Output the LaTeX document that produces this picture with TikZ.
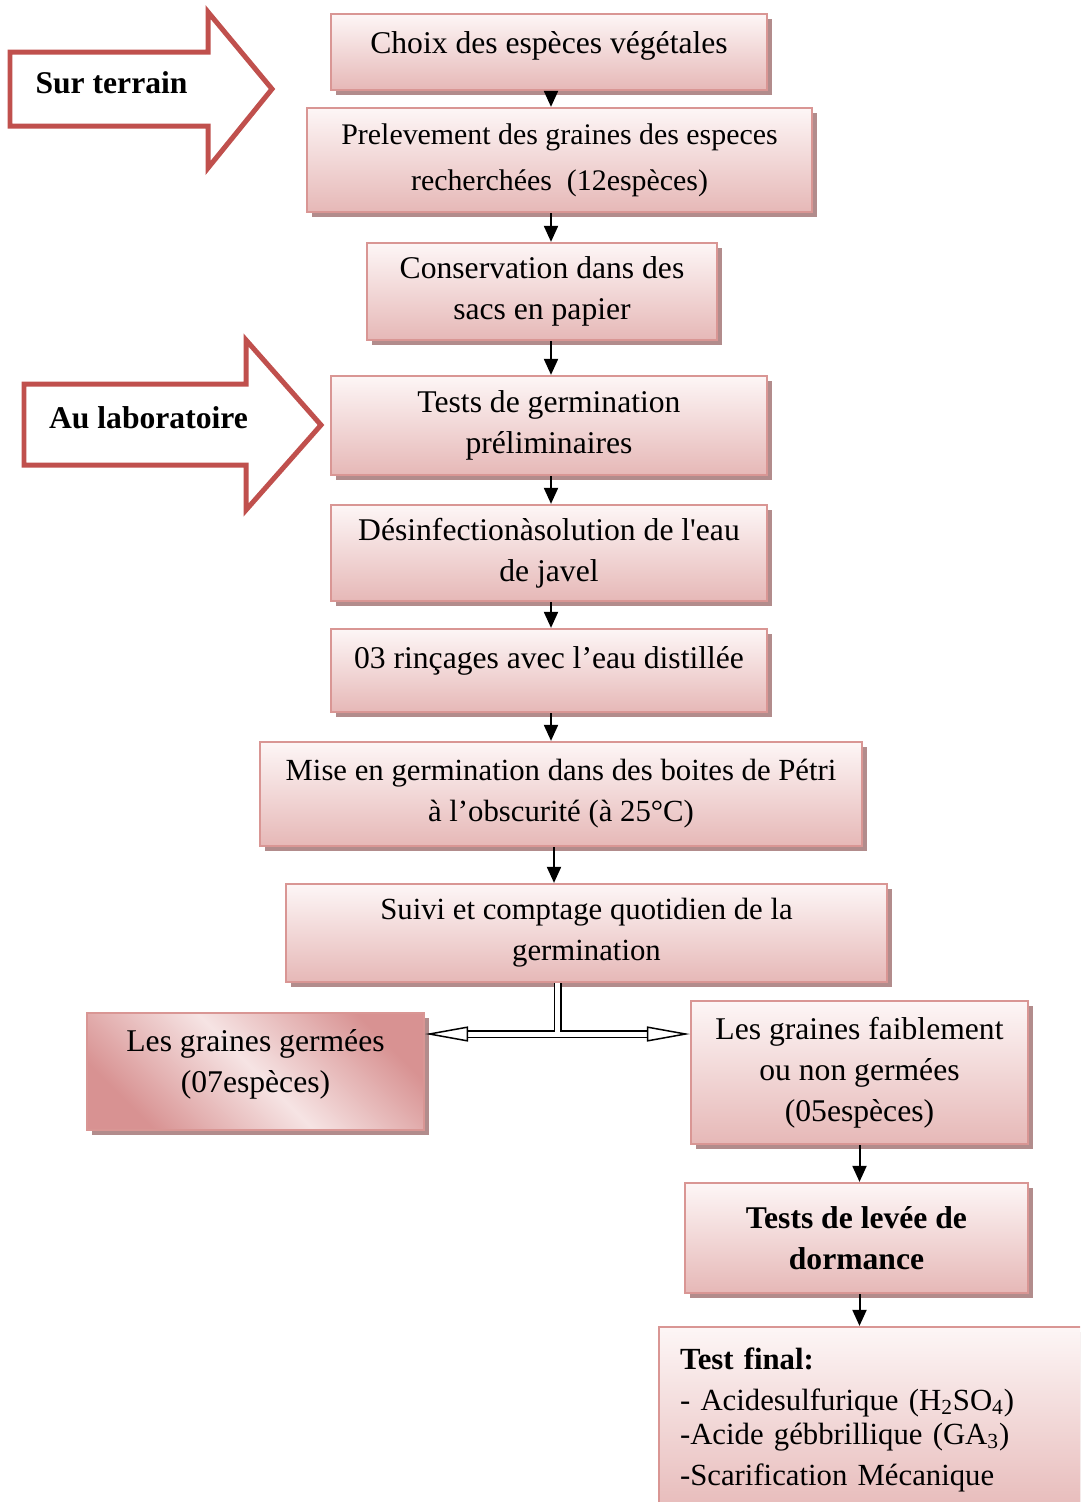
\documentclass[tikz,border=0pt]{standalone}
\usepackage{fontspec}
\setmainfont{Liberation Serif}
\usetikzlibrary{shapes,arrows,positioning,calc,arrows.meta}

\definecolor{bordrose}{RGB}{217,150,148}
\definecolor{basrose}{RGB}{230,184,183}
\definecolor{hautrose}{RGB}{253,246,246}
\definecolor{ombre}{RGB}{178,140,140}
\definecolor{rougeflec}{RGB}{192,80,77}
\definecolor{rosepale}{RGB}{246,228,228}
\definecolor{rosefonce}{RGB}{216,146,146}

\tikzset{
  etape/.style={draw=bordrose, line width=1.3pt, top color=hautrose, bottom color=basrose,
    align=center, inner sep=2pt, font=\fontsize{18}{23.3}\selectfont,
    preaction={fill=ombre, transform canvas={xshift=0.1cm,yshift=-0.1cm}}},
  fleche/.style={line width=0.04cm, -{Triangle[length=0.32cm,width=0.28cm]}},
  canal/.style={double, double distance=0.1cm, line width=0.03cm,
    {Triangle[open,length=0.86cm,width=0.3cm]}-{Triangle[open,length=0.86cm,width=0.3cm]}},
  grosse fleche/.style={draw=rougeflec, line width=0.1cm, fill=white, line join=miter},
  etiquette/.style={font=\bfseries\fontsize{18}{22}\selectfont}
}

\begin{document}
\begin{tikzpicture}[x=0.02cm,y=-0.02cm]
    \useasboundingbox (0,0) rectangle (1080,1502);
    \clip (0,0) rectangle (1080,1502);

    % Grosses fleches a gauche
    \draw [grosse fleche] (10,52) -- (208,52) -- (208,12) -- (272,89) -- (208,168) -- (208,126) -- (10,126) -- cycle;
    \node [etiquette] (terrain) at (111.5,83) {Sur terrain};

    \draw [grosse fleche] (24,384) -- (246,384) -- (246,340) -- (321,425) -- (246,510) -- (246,465) -- (24,465) -- cycle;
    \node [etiquette] (labo) at (148.5,418) {Au laboratoire};

    % Etapes
    \node [etape, minimum width=8.72cm, minimum height=1.52cm, text depth=11pt] (choix) at (549,52) {Choix des espèces végétales};
    \node [etape, minimum width=10.1cm, minimum height=2.08cm, font=\fontsize{17}{26}\selectfont] (prelev) at (559.5,160) {Prelevement des graines des especes\\recherchées\enspace(12espèces)};
    \node [etape, minimum width=7cm, minimum height=1.94cm] (conserv) at (542,291.5) {Conservation dans des\\sacs en papier};
    \node [etape, minimum width=8.72cm, minimum height=1.98cm] (tests) at (549,425.5) {Tests de germination\\préliminaires};
    \node [etape, minimum width=8.72cm, minimum height=1.92cm] (desinf) at (549,553) {Désinfectionàsolution de l\textquotesingle eau\\de javel};
    \node [etape, minimum width=8.72cm, minimum height=1.66cm, text depth=15pt] (rincage) at (549,670.5) {03 rinçages avec l’eau distillée};
    \node [etape, minimum width=12.04cm, minimum height=2.08cm, font=\fontsize{17.5}{23.3}\selectfont] (mise) at (561,794) {Mise en germination dans des boites de Pétri\\à l’obscurité (à 25°C)};
    \node [etape, minimum width=12.02cm, minimum height=1.96cm, font=\fontsize{17.5}{23.3}\selectfont] (suivi) at (586.5,933) {Suivi et comptage quotidien de la\\germination};

    % Resultats
    \node [etape, minimum width=6.74cm, minimum height=2.34cm, text depth=12pt,
           top color=rosefonce, bottom color=rosefonce, middle color=rosepale, shading angle=-45] (germ) at (255.5,1071.5) {Les graines germées\\(07espèces)};
    \node [etape, minimum width=6.74cm, minimum height=2.86cm] (faible) at (859.5,1072.5) {Les graines faiblement\\ou non germées\\(05espèces)};
    \node [etape, minimum width=6.86cm, minimum height=2.2cm, font=\bfseries\fontsize{18}{23.3}\selectfont] (levee) at (856.5,1238) {Tests de levée de\\dormance};
    \node [etape, minimum width=8.82cm, minimum height=3.86cm, text width=7.98cm, inner xsep=0.42cm, align=left,
           font=\fontsize{17.5}{23.3}\selectfont, text height=8pt] (final) at (879.5,1423.5)
        {\textbf{Test final:}\\- Acidesulfurique (H\textsubscript{2}SO\textsubscript{4})\\[-4pt]-Acide gébbrillique (GA\textsubscript{3})\\-Scarification Mécanique};

    % Fleches
    \coordinate (axe) at (551,0);
    \coordinate (axebis) at (554,0);
    \draw [fleche] (choix.south -| axe) -- (prelev.north -| axe);
    \draw [fleche] (prelev.south -| axe) -- (conserv.north -| axe);
    \draw [fleche] (conserv.south -| axe) -- (tests.north -| axe);
    \draw [fleche] (tests.south -| axe) -- (desinf.north -| axe);
    \draw [fleche] (desinf.south -| axe) -- (rincage.north -| axe);
    \draw [fleche] (rincage.south -| axe) -- (mise.north -| axe);
    \draw [fleche] (mise.south -| axebis) -- (suivi.north -| axebis);

    \coordinate (jonction) at (557.5,1034);
    \draw [canal] (suivi.south -| jonction) -- (jonction) (germ.east |- jonction) -- (jonction) -- (faible.west |- jonction);

    \draw [fleche] (faible.south) -- (faible.south |- levee.north);
    \draw [fleche] (levee.south -| faible.south) -- (faible.south |- final.north);
\end{tikzpicture}
\end{document}
